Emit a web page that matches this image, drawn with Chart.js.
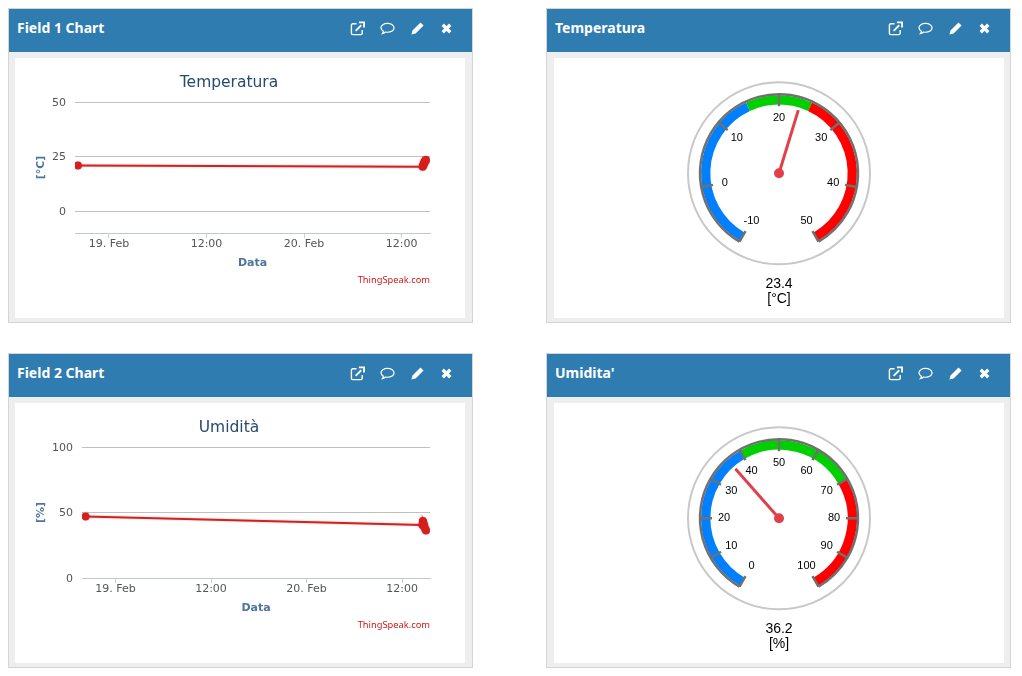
<!DOCTYPE html>
<html>
<head>
<meta charset="utf-8">
<title>ThingSpeak channel</title>
<script src="https://cdn.jsdelivr.net/npm/chart.js@4/dist/chart.umd.min.js"></script>
<style>
  html, body { margin: 0; padding: 0; background: #fff; }
  .panel { position: absolute; width: 465px; height: 315px; box-sizing: border-box; border: 1px solid #d4d4d4; background: #eee; }
  .head { position: absolute; left: 0; top: 0; right: 0; height: 43px; background: #2e7cb0; color: #fff; }
  .head span { position: absolute; left: 8px; top: 9px; font: bold 14px "Noto Sans", sans-serif; }
  .head svg { position: absolute; top: 12px; width: 15px; height: 15px; }
  .body { position: absolute; left: 6px; top: 49px; width: 450px; height: 260px; background: #fff; }
  .right .body { left: 7px; }
  .credit { position: absolute; right: 35px; top: 215px; font: 9.3px "Noto Sans", sans-serif; color: #d01818; }
  canvas { display: block; }
</style>
</head>
<body>
<div class="panel" style="left:8px;top:8px"><div class="head"><span>Field 1 Chart</span></div><div class="body"><canvas id="field1" width="450" height="260"></canvas><div class="credit">ThingSpeak.com</div></div></div>
<div class="panel right" style="left:546px;top:8px"><div class="head"><span>Temperatura</span></div><div class="body"><canvas id="gauge1" width="450" height="260"></canvas></div></div>
<div class="panel" style="left:8px;top:353px"><div class="head"><span>Field 2 Chart</span></div><div class="body"><canvas id="field2" width="450" height="260"></canvas><div class="credit">ThingSpeak.com</div></div></div>
<div class="panel right" style="left:546px;top:353px"><div class="head"><span>Umidita'</span></div><div class="body"><canvas id="gauge2" width="450" height="260"></canvas></div></div>

<script>
// hours counted from 19 Feb 00:00
const timeTicks = [0, 12, 24, 36]
const timeLabels = ['19. Feb', '12:00', '20. Feb', '12:00']

const tempTimes = [-3.82, 38.6, 38.65, 38.7, 38.75, 38.8, 38.85, 38.9, 38.95, 39.0]
const tempValues = [20.9, 20.4, 20.9, 21.3, 21.8, 22.2, 22.6, 23.0, 23.2, 23.4]
const tempTicks = [0, 25, 50]

const humTimes = [-3.75, 38.55, 38.6, 38.65, 38.7, 38.75, 38.8, 38.9, 39.0]
const humValues = [47, 40.5, 43.5, 42.5, 41, 40, 39, 37.5, 36.2]
const humTicks = [0, 50, 100]

const tempGaugeTicks = [-10, 0, 10, 20, 30, 40, 50]
const tempGaugeBands = [25, 10, 25]
const tempReading = 23.4

const humGaugeTicks = [0, 10, 20, 30, 40, 50, 60, 70, 80, 90, 100]
const humGaugeBands = [40, 30, 30]
const humReading = 36.2

const sans = '"DejaVu Sans", sans-serif'
const arial = '"Liberation Sans", Arial, sans-serif'

// head icons
const icons = [
  [349, '<path d="M7 3H3a1.5 1.5 0 0 0-1.5 1.5v8.500A1.500 1.500 0 0 0 3 14.500h8.500a1.500 1.500 0 0 0 1.500-1.500V9.500" fill="none" stroke="#fff" stroke-width="1.500"/><path d="M6 10.500 12 4.500M9.500 1.500H15V7" fill="none" stroke="#fff" stroke-width="2"/>'],
  [379, '<path d="M8 2.500c3.900 0 7 2.100 7 4.800s-3.100 4.700-7 4.700c-.8 0-1.500 0-2.200-.2-1 .9-2 1.500-3.300 1.700.6-.8 1-1.600 1.100-2.600C2.100 10 1 8.800 1 7.300 1 4.600 4.100 2.500 8 2.500z" fill="none" stroke="#fff" stroke-width="1.300"/>'],
  [409, '<path d="M11.200 1.500 14.500 4.800 6 13.300 1.500 14.500 2.700 10z" fill="#fff"/>'],
  [438, '<path d="M4 4 12 12M12 4 4 12" fill="none" stroke="#fff" stroke-width="3.400"/>']
]
document.querySelectorAll('.head').forEach(head => {
  icons.forEach(([left, path]) => {
    head.insertAdjacentHTML('beforeend', '<svg viewBox="0 0 16 16" style="left:' + (left - 8) + 'px">' + path + '</svg>')
  })
})

// soft edge around the series line
const lineGlow = {
  id: 'lineGlow',
  beforeDatasetsDraw(chart) {
    chart.ctx.save()
    chart.ctx.shadowColor = 'rgba(214, 32, 32, 0.3)'
    chart.ctx.shadowBlur = 2
  },
  afterDatasetsDraw(chart) {
    chart.ctx.restore()
  }
}

function lineChart(id, title, unit, times, values, ticks, yMin, yMax, xMin, xMax, yWidth) {
  return new Chart(document.getElementById(id), {
    type: 'line',
    data: {
      datasets: [{
        data: times.map((t, i) => ({ x: t, y: values[i] })),
        borderColor: '#d62020',
        backgroundColor: '#d62020',
        borderWidth: 2,
        pointRadius: 3,
        tension: 0
      }]
    },
    options: {
      responsive: false,
      animation: false,
      devicePixelRatio: 1,
      layout: { padding: { left: 13, right: 35, top: 0, bottom: 44 } },
      plugins: {
        legend: { display: false },
        tooltip: { enabled: false },
        title: {
          display: true,
          text: title,
          color: '#274b6d',
          font: { family: sans, size: 15.5, weight: 'normal' },
          padding: { top: 16, bottom: 9.400 }
        }
      },
      scales: {
        x: {
          type: 'linear',
          min: xMin,
          max: xMax,
          afterFit: s => { s.height = 41 },
          afterBuildTicks: s => { s.ticks = timeTicks.map(v => ({ value: v })) },
          border: { color: '#c0c8d0' },
          grid: { drawOnChartArea: false, color: '#c0d0e0', tickLength: 5 },
          ticks: {
            color: '#555',
            padding: 0,
            maxRotation: 0,
            font: { family: sans, size: 11 },
            callback: v => timeLabels[timeTicks.indexOf(v)]
          },
          title: { display: true, text: 'Data', color: '#4d759e', font: { family: sans, size: 11, weight: 'bold' } }
        },
        y: {
          min: yMin,
          max: yMax,
          afterFit: s => { s.width = yWidth },
          afterBuildTicks: s => { s.ticks = ticks.map(v => ({ value: v })) },
          border: { display: false },
          grid: { color: '#c0c0c0', drawTicks: false },
          ticks: { color: '#555', padding: 9, labelOffset: 1, font: { family: sans, size: 11 } },
          title: { display: true, text: unit, color: '#4d759e', padding: { top: 7, bottom: 4 }, font: { family: sans, size: 11, weight: 'bold' } }
        }
      }
    },
    plugins: [lineGlow]
  })
}

// ticks, needle, ring and readout on top of the doughnut bands
const gaugeDial = {
  id: 'gaugeDial',
  afterDatasetsDraw(chart) {
    const { ticks, reading, unit } = chart.options.plugins.gaugeDial
    const arc = chart.getDatasetMeta(0).data[0]
    const ctx = chart.ctx
    const cx = arc.x
    const cy = arc.y
    const lo = ticks[0]
    const hi = ticks[ticks.length - 1]
    // angle from the top of the dial, -150 to 150 degrees
    const angle = v => ((v - lo) / (hi - lo) * 300 - 150) * Math.PI / 180
    const px = (a, r) => [cx + Math.sin(a) * r, cy - Math.cos(a) * r]

    ctx.save()
    ctx.strokeStyle = '#c8c8c8'
    ctx.lineWidth = 2
    ctx.beginPath()
    ctx.arc(cx, cy, 91, 0, Math.PI * 2)
    ctx.stroke()

    ctx.strokeStyle = '#707070'
    ctx.lineWidth = 2.5
    ctx.beginPath()
    ctx.arc(cx, cy, 79, angle(lo) - Math.PI / 2, angle(hi) - Math.PI / 2)
    ctx.stroke()

    ctx.fillStyle = '#000'
    ctx.font = '11px ' + arial
    ctx.textAlign = 'center'
    ctx.textBaseline = 'middle'
    ticks.forEach(v => {
      const a = angle(v)
      ctx.beginPath()
      ctx.moveTo(...px(a, 79))
      ctx.lineTo(...px(a, 67))
      ctx.stroke()
      ctx.fillText(String(v), ...px(a, 55))
    })

    ctx.strokeStyle = '#e0404a'
    ctx.fillStyle = '#e0404a'
    ctx.lineWidth = 3
    ctx.beginPath()
    ctx.moveTo(cx, cy)
    ctx.lineTo(...px(angle(reading), 66))
    ctx.stroke()
    ctx.beginPath()
    ctx.arc(cx, cy, 5, 0, Math.PI * 2)
    ctx.fill()

    ctx.fillStyle = '#000'
    ctx.font = '14px ' + arial
    ctx.fillText(reading.toFixed(1), cx, cy + 110.5)
    ctx.fillText(unit, cx, cy + 126)
    ctx.restore()
  }
}

function gaugeChart(id, ticks, bands, reading, unit) {
  return new Chart(document.getElementById(id), {
    type: 'doughnut',
    data: {
      datasets: [{
        data: bands,
        backgroundColor: ['#0080ff', '#00d000', '#ff0000'],
        borderWidth: 0
      }]
    },
    options: {
      responsive: false,
      animation: false,
      devicePixelRatio: 1,
      rotation: -150,
      circumference: 300,
      radius: 78,
      cutout: '88%',
      layout: { padding: { bottom: 40 } },
      plugins: {
        legend: { display: false },
        tooltip: { enabled: false },
        gaugeDial: { ticks: ticks, reading: reading, unit: unit }
      }
    },
    plugins: [gaugeDial]
  })
}

lineChart('field1', 'Temperatura', '[°C]', tempTimes, tempValues, tempTicks, -10, 50, -4.18, 39.5, 47)
lineChart('field2', 'Umidità', '[%]', humTimes, humValues, humTicks, 0, 100, -4.2, 39.5, 54)
gaugeChart('gauge1', tempGaugeTicks, tempGaugeBands, tempReading, '[°C]')
gaugeChart('gauge2', humGaugeTicks, humGaugeBands, humReading, '[%]')
</script>
</body>
</html>
